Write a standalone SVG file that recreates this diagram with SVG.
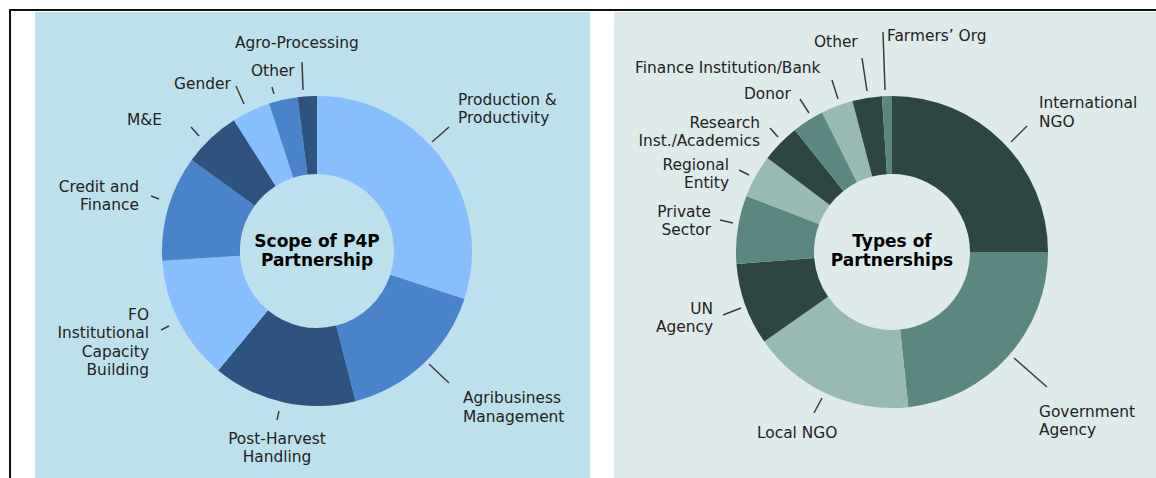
<svg xmlns="http://www.w3.org/2000/svg" width="1156" height="478" viewBox="0 0 1156 478">
<style>
.lbl{font-family:"DejaVu Sans",Verdana,sans-serif;font-size:15.4px;fill:#222}
.ttl{font-family:"DejaVu Sans",Verdana,sans-serif;font-size:17px;font-weight:bold;fill:#000;text-anchor:middle}
.r{text-anchor:end}.m{text-anchor:middle}
.lead{stroke:#3c3c3c;stroke-width:1.5;fill:none}
.bL{fill:#86bffb}.bM{fill:#4a83c9}.bD{fill:#2f537f}
.gL{fill:#97bab2}.gM{fill:#5a8880}.gD{fill:#2e4641}
</style>
<rect width="1156" height="478" fill="#fff"/>
<rect x="35" y="12" width="555" height="466" fill="#bde1ec"/>
<rect x="614" y="12" width="542" height="466" fill="#dfeaea"/>
<path d="M10 478 V10 H1156" fill="none" stroke="#111" stroke-width="2"/>

<g id="scope-donut">
<path class="bL" d="M317 96 A155 155 0 0 1 464.41 298.90 L390.23 274.79 A77 77 0 0 0 317 174 Z"/>
<path class="bM" d="M464.41 298.90 A155 155 0 0 1 355.55 401.13 L336.15 325.58 A77 77 0 0 0 390.23 274.79 Z"/>
<path class="bD" d="M355.55 401.13 A155 155 0 0 1 218.20 370.43 L267.92 310.33 A77 77 0 0 0 336.15 325.58 Z"/>
<path class="bL" d="M218.20 370.43 A155 155 0 0 1 162.31 260.73 L240.15 255.83 A77 77 0 0 0 267.92 310.33 Z"/>
<path class="bM" d="M162.31 260.73 A155 155 0 0 1 191.60 159.89 L254.71 205.74 A77 77 0 0 0 240.15 255.83 Z"/>
<path class="bD" d="M191.60 159.89 A155 155 0 0 1 233.95 120.13 L275.74 185.99 A77 77 0 0 0 254.71 205.74 Z"/>
<path class="bL" d="M233.95 120.13 A155 155 0 0 1 269.10 103.59 L293.21 177.77 A77 77 0 0 0 275.74 185.99 Z"/>
<path class="bM" d="M269.10 103.59 A155 155 0 0 1 297.57 97.22 L307.35 174.61 A77 77 0 0 0 293.21 177.77 Z"/>
<path class="bD" d="M297.57 97.22 A155 155 0 0 1 317 96 L317 174 A77 77 0 0 0 307.35 174.61 Z"/>
<text class="ttl" x="317" y="247">Scope of P4P</text>
<text class="ttl" x="317" y="266">Partnership</text>
</g>

<g id="types-donut">
<path class="gD" d="M892 96 A156 156 0 0 1 1048 252 L970 252 A78 78 0 0 0 892 174 Z"/>
<path class="gM" d="M1048 252 A156 156 0 0 1 908.31 407.15 L900.15 329.57 A78 78 0 0 0 970 252 Z"/>
<path class="gL" d="M908.31 407.15 A156 156 0 0 1 764.21 341.48 L828.11 296.74 A78 78 0 0 0 900.15 329.57 Z"/>
<path class="gD" d="M764.21 341.48 A156 156 0 0 1 736.46 263.97 L814.23 257.98 A78 78 0 0 0 828.11 296.74 Z"/>
<path class="gM" d="M736.46 263.97 A156 156 0 0 1 746.36 196.09 L819.18 224.05 A78 78 0 0 0 814.23 257.98 Z"/>
<path class="gL" d="M746.36 196.09 A156 156 0 0 1 767.41 158.12 L829.71 205.06 A78 78 0 0 0 819.18 224.05 Z"/>
<path class="gD" d="M767.41 158.12 A156 156 0 0 1 794.89 129.91 L843.44 190.96 A78 78 0 0 0 829.71 205.06 Z"/>
<path class="gM" d="M794.89 129.91 A156 156 0 0 1 822.15 112.51 L857.07 182.26 A78 78 0 0 0 843.44 190.96 Z"/>
<path class="gL" d="M822.15 112.51 A156 156 0 0 1 852.41 101.11 L872.21 176.55 A78 78 0 0 0 857.07 182.26 Z"/>
<path class="gD" d="M852.41 101.11 A156 156 0 0 1 881.93 96.32 L886.97 174.16 A78 78 0 0 0 872.21 176.55 Z"/>
<path class="gM" d="M881.93 96.32 A156 156 0 0 1 892 96 L892 174 A78 78 0 0 0 886.97 174.16 Z"/>
<text class="ttl" x="892" y="247">Types of</text>
<text class="ttl" x="892" y="266">Partnerships</text>
</g>

<g id="connectors">
<line class="lead" x1="302" y1="62" x2="303" y2="90"/>
<line class="lead" x1="272" y1="87" x2="274" y2="94"/>
<line class="lead" x1="236" y1="86" x2="244" y2="104"/>
<line class="lead" x1="191" y1="127" x2="199" y2="136"/>
<line class="lead" x1="151" y1="196" x2="159" y2="199"/>
<line class="lead" x1="161" y1="330" x2="169" y2="326"/>
<line class="lead" x1="277" y1="420" x2="279" y2="411"/>
<line class="lead" x1="429" y1="364" x2="449" y2="383"/>
<line class="lead" x1="432" y1="142" x2="449" y2="127"/>
<line class="lead" x1="883" y1="32" x2="885" y2="90"/>
<line class="lead" x1="862" y1="58" x2="867" y2="91"/>
<line class="lead" x1="832" y1="80" x2="838" y2="99"/>
<line class="lead" x1="800" y1="99" x2="809" y2="113"/>
<line class="lead" x1="770" y1="128" x2="778" y2="137"/>
<line class="lead" x1="739" y1="170" x2="749" y2="175"/>
<line class="lead" x1="720" y1="220" x2="733" y2="223"/>
<line class="lead" x1="723" y1="315" x2="741" y2="308"/>
<line class="lead" x1="814" y1="413" x2="822" y2="398"/>
<line class="lead" x1="1014" y1="358" x2="1047" y2="387"/>
<line class="lead" x1="1011" y1="142" x2="1027" y2="126"/>
</g>

<g id="scope-labels">
<text class="lbl" x="235" y="48">Agro-Processing</text>
<text class="lbl" x="251" y="76">Other</text>
<text class="lbl" x="174" y="89">Gender</text>
<text class="lbl" x="127" y="125">M&amp;E</text>
<text class="lbl r" x="139" y="192">Credit and</text>
<text class="lbl r" x="139" y="210">Finance</text>
<text class="lbl r" x="149" y="320">FO</text>
<text class="lbl r" x="149" y="338">Institutional</text>
<text class="lbl r" x="149" y="357">Capacity</text>
<text class="lbl r" x="149" y="375">Building</text>
<text class="lbl m" x="277" y="444">Post-Harvest</text>
<text class="lbl m" x="277" y="462">Handling</text>
<text class="lbl" x="463" y="403">Agribusiness</text>
<text class="lbl" x="463" y="422">Management</text>
<text class="lbl" x="458" y="105">Production &amp;</text>
<text class="lbl" x="458" y="123">Productivity</text>
</g>

<g id="types-labels">
<text class="lbl" x="887" y="41">Farmers’ Org</text>
<text class="lbl" x="814" y="47">Other</text>
<text class="lbl" x="635" y="73">Finance Institution/Bank</text>
<text class="lbl" x="744" y="99">Donor</text>
<text class="lbl r" x="760" y="128">Research</text>
<text class="lbl r" x="760" y="146">Inst./Academics</text>
<text class="lbl r" x="729" y="170">Regional</text>
<text class="lbl r" x="729" y="188">Entity</text>
<text class="lbl r" x="711" y="217">Private</text>
<text class="lbl r" x="711" y="235">Sector</text>
<text class="lbl r" x="713" y="314">UN</text>
<text class="lbl r" x="713" y="332">Agency</text>
<text class="lbl" x="757" y="438">Local NGO</text>
<text class="lbl" x="1039" y="417">Government</text>
<text class="lbl" x="1039" y="435">Agency</text>
<text class="lbl" x="1039" y="108">International</text>
<text class="lbl" x="1039" y="127">NGO</text>
</g>
</svg>
